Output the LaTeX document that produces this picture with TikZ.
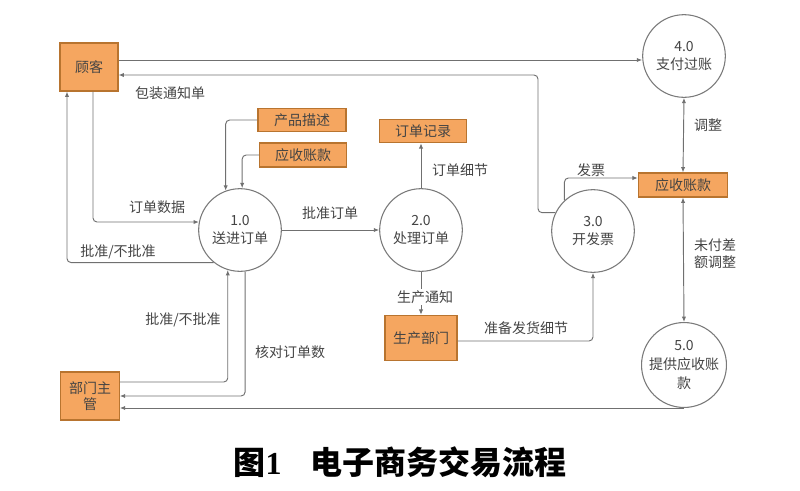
\documentclass[tikz,border=0pt]{standalone}
\usepackage{fontspec}
\setmainfont{Noto Sans CJK SC}
\newfontfamily\serifnum{Liberation Serif}
\usetikzlibrary{arrows.meta}
\definecolor{boxfill}{HTML}{F5A660}
\definecolor{boxline}{HTML}{B8742F}
\definecolor{txt}{HTML}{444444}
\definecolor{lne}{HTML}{707070}
\definecolor{circ}{HTML}{7A7A7A}
\tikzset{
  ent/.style={draw=boxline, line width=0.8pt, fill=boxfill, text=txt, inner sep=0pt,
    font=\fontsize{10.5}{12.5}\selectfont, align=center},
  proc/.style={circle, draw=circ, line width=0.8pt, fill=white, text=txt, inner sep=0pt,
    minimum size=62pt, font=\fontsize{10.5}{14}\selectfont, align=center},
  flow/.style={draw=lne, line width=0.7pt, rounded corners=3pt, -{Latex[length=4pt,width=3.2pt]}},
  bflow/.style={draw=lne, line width=0.7pt, {Latex[length=4pt,width=3.2pt]}-{Latex[length=4pt,width=3.2pt]}},
  lbl/.style={text=txt, inner sep=1pt, font=\fontsize{10.5}{13}\selectfont, align=center},
}
\begin{document}
\begin{tikzpicture}[x=0.75pt, y=-0.75pt]
\useasboundingbox (0,0) rectangle (800,490);
% entities
\node[ent, minimum width=43.5pt, minimum height=36pt] (guke) at (89,67) {顾客};
\node[ent, minimum width=66pt, minimum height=17.5pt] (cpms) at (302,120) {产品描述};
\node[ent, minimum width=65pt, minimum height=18pt] (ysk1) at (303,155) {应收账款};
\node[ent, minimum width=65pt, minimum height=17.5pt] (ddjl) at (423,131) {订单记录};
\node[ent, minimum width=54pt, minimum height=34pt] (scbm) at (421,338) {生产部门};
\node[ent, minimum width=67pt, minimum height=18pt] (ysk2) at (683,185) {应收账款};
\node[ent, minimum width=44pt, minimum height=36pt] (bmzg) at (90,396) {部门主\\管};
% processes
\node[proc] (p1) at (240,230) {1.0\\送进订单};
\node[proc] (p2) at (421,230) {2.0\\处理订单};
\node[proc] (p3) at (593,231) {3.0\\开发票};
\node[proc] (p4) at (684,56) {4.0\\支付过账};
\node[proc] (p5) at (684,365) {5.0\\提供应收账\\款};
% flows
\draw[flow] (guke.east |- 0,60) -- (p4.west |- 0,60);
\draw[flow] (p3.154) -| (538,75) -- (guke.east |- 0,75);
\node[lbl] (l1) at (170,93) {包装通知单};
\draw[flow] (guke.south -| 93,0) |- (p1.169);
\node[lbl] (l2) at (157,207) {订单数据};
\draw[flow] (p1.231) -| (guke.south -| 67,0);
\node[lbl] (l3) at (118,252) {批准/不批准};
\draw[flow] (cpms.west) -| (p1.110);
\draw[flow] (ysk1.west) -| (p1.87);
\draw[flow] (p1.east) -- (p2.west);
\node[lbl] (l4) at (330,213) {批准订单};
\draw[flow] (p2.north) -- (p2.north |- ddjl.south);
\node[lbl] (l5) at (460,170) {订单细节};
\draw[flow] (p2.south) -- (p2.south |- scbm.north);
\node[lbl, fill=white] (l6) at (425,297) {生产通知};
\draw[flow] (scbm.east |- 0,341) -| (p3.south);
\node[lbl] (l7) at (526,328) {准备发货细节};
\draw[flow] (p3.133) |- (ysk2.west |- 0,178);
\node[lbl] (l8) at (591,170) {发票};
\draw[bflow] (p4.south) -- (ysk2.north);
\node[lbl] (l9) at (708,125) {调整};
\draw[bflow] (ysk2.south) -- (p5.north);
\node[lbl] (l10) at (715,254) {未付差\\额调整};
\draw[flow] (bmzg.east |- 0,382) -| (p1.253);
\node[lbl] (l11) at (183,320) {批准/不批准};
\draw[flow] (p1.277) |- (bmzg.east |- 0,396);
\node[lbl] (l12) at (290,352) {核对订单数};
\draw[flow] (p5.south) -- (bmzg.east |- p5.south);
% caption
\node[font=\fontsize{24}{27}\selectfont\bfseries, text=black] (cap) at (400,462) {图{\serifnum 1}\hspace{0.9em}电子商务交易流程};
\end{tikzpicture}
\end{document}
